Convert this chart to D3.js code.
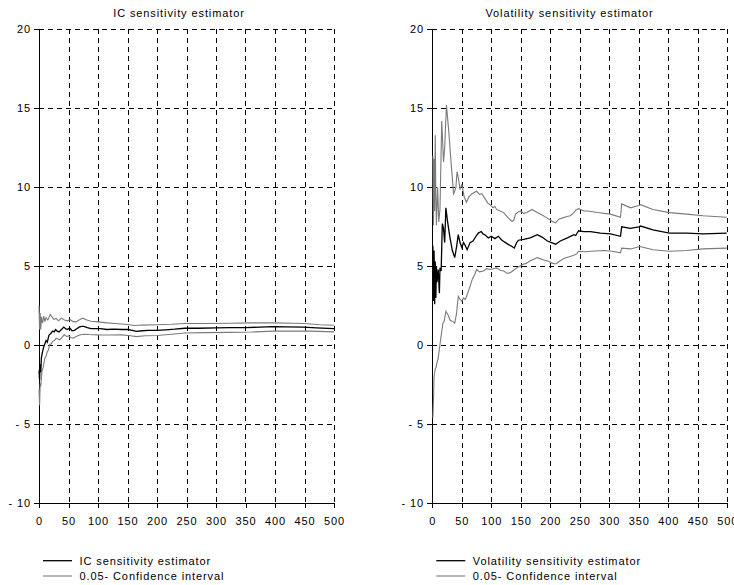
<!DOCTYPE html>
<html lang="en">
<head>
    <meta charset="UTF-8">
    <title>Sensitivity estimators</title>
    <script src="https://d3js.org/d3.v7.min.js"></script>
    <style>
        *{
            margin: 0;
            padding: 0;
        }
        body{
            background: #fff;
        }
        svg text{
            font-family: "Liberation Sans", Arial, sans-serif;
            font-size: 11px;
            letter-spacing: 0.9px;
            fill: #000;
        }
        .grid line{
            stroke: #000;
            stroke-width: 1px;
            stroke-dasharray: 5,4;
            shape-rendering: crispEdges;
        }
        .axis path, .axis line{
            fill: none;
            stroke: black;
            shape-rendering: crispEdges;
        }
    </style>
</head>
<body>
    <div id="content"></div>

    <script>
        var xTicks = [0, 50, 100, 150, 200, 250, 300, 350, 400, 450, 500];
        var yTicks = [-10, -5, 0, 5, 10, 15, 20];
        var yTickLabels = ["- 10", "- 5", "0", "5", "10", "15", "20"];

        var titles = ["IC sensitivity estimator", "Volatility sensitivity estimator"];
        var legendNames = [
            ["IC sensitivity estimator", "0.05- Confidence interval"],
            ["Volatility sensitivity estimator", "0.05- Confidence interval"]
        ];

        // left panel: IC sensitivity (estimate, upper and lower 0.05 bound)
        var icEst = [[0,-1.6],[1,-2.2],[2,-1.2],[3,-1.7],[4,-0.8],[6,-0.4],[8,-0.1],[10,0.1],[12,0.3],[14,0.2],
            [17,0.65],[20,0.75],[23,0.9],[26,0.85],[28,1.0],[31,0.9],[34,0.85],[38,1.0],[42,1.15],[45,1.05],
            [48,1.0],[52,1.1],[56,0.92],[60,0.95],[64,1.05],[68,1.15],[72,1.2],[76,1.2],[82,1.12],[88,1.05],
            [95,1.05],[104,1.05],[115,1.0],[127,1.02],[140,1.0],[150,1.0],[158,0.95],[165,0.88],[175,0.92],
            [185,0.95],[199,0.95],[215,0.98],[230,1.02],[247,1.08],[270,1.08],[300,1.1],[324,1.12],[350,1.12],
            [375,1.15],[397,1.18],[420,1.17],[448,1.15],[470,1.1],[500,1.05]];
        var icUpper = [[0,2.5],[1,1.0],[2,2.05],[3,1.0],[4,1.8],[6,1.4],[8,1.85],[10,1.5],[12,1.75],[15,1.6],
            [19,1.95],[22,1.8],[25,1.65],[29,1.7],[33,1.55],[38,1.72],[43,1.6],[48,1.55],[53,1.62],[58,1.5],
            [63,1.48],[68,1.6],[74,1.72],[80,1.62],[88,1.52],[100,1.48],[116,1.42],[130,1.38],[150,1.32],
            [162,1.25],[175,1.28],[199,1.3],[225,1.33],[247,1.38],[280,1.38],[324,1.4],[360,1.42],[397,1.42],
            [430,1.4],[450,1.38],[475,1.3],[500,1.27]];
        var icLower = [[0,-2.8],[1,-3.8],[2,-2.4],[3,-2.6],[5,-1.65],[7,-1.4],[10,-0.8],[12,-0.7],[14,-0.4],
            [16,-0.3],[18,0.05],[21,0.1],[23,0.25],[26,0.3],[29,0.45],[32,0.4],[35,0.35],[39,0.5],[43,0.68],
            [47,0.55],[50,0.6],[54,0.5],[58,0.45],[63,0.55],[69,0.65],[76,0.7],[85,0.68],[100,0.66],[120,0.65],
            [140,0.66],[155,0.6],[165,0.55],[180,0.6],[200,0.62],[225,0.7],[247,0.78],[280,0.8],[324,0.82],
            [360,0.84],[397,0.9],[430,0.9],[460,0.9],[500,0.85]];

        // right panel: volatility sensitivity
        var volEst = [[1,6.3],[2,2.8],[3,6.0],[4,2.6],[5,5.3],[6,3.0],[7,5.0],[8,4.0],[10,4.8],[12,3.3],
            [13,4.9],[15,4.7],[17,7.7],[19,7.4],[21,6.5],[23,8.7],[26,7.8],[30,6.8],[34,6.0],[38,5.55],
            [41,6.2],[44,7.0],[47,6.5],[50,6.2],[53,6.5],[56,6.3],[59,6.05],[64,6.5],[69,6.6],[74,6.9],
            [78,7.1],[83,7.2],[86,7.05],[89,7.0],[95,6.8],[100,6.9],[106,6.75],[112,6.9],[118,6.65],[126,6.45],
            [135,6.25],[139,6.15],[143,6.5],[146,6.65],[155,6.7],[166,6.8],[178,7.0],[186,6.85],[195,6.6],
            [209,6.4],[217,6.6],[229,6.8],[240,7.0],[243,6.95],[248,7.25],[257,7.2],[268,7.2],[285,7.1],
            [302,7.05],[319,6.9],[321,7.5],[336,7.4],[350,7.5],[353,7.55],[374,7.3],[402,7.1],[431,7.1],
            [459,7.05],[499,7.1]];
        var volUpper = [[1,12.0],[2,7.6],[3,11.8],[4,8.5],[5,13.3],[6,9.5],[7,7.6],[9,10.0],[11,7.8],[13,8.6],
            [16,14.2],[19,11.6],[21,12.5],[24,15.2],[28,13.5],[32,11.5],[36,9.6],[38,9.75],[40,10.0],[42,11.0],
            [45,10.4],[47,9.85],[50,10.2],[54,9.4],[58,9.05],[62,9.4],[66,9.55],[70,9.65],[75,9.75],[80,9.55],
            [84,9.6],[89,9.3],[94,9.0],[98,8.9],[103,8.7],[106,8.8],[109,8.6],[115,8.5],[121,8.4],[129,8.05],
            [135,7.85],[138,7.9],[141,8.3],[144,8.4],[149,8.5],[155,8.35],[160,8.4],[169,8.6],[178,8.4],
            [186,8.25],[195,8.05],[203,7.85],[209,7.75],[215,8.0],[220,8.05],[228,8.15],[234,8.2],[240,8.4],
            [243,8.55],[248,8.65],[257,8.5],[263,8.5],[280,8.4],[302,8.3],[319,8.1],[321,8.95],[336,8.7],
            [350,8.85],[353,8.9],[374,8.6],[402,8.4],[431,8.3],[459,8.2],[499,8.1]];
        var volLower = [[1,-4.6],[2,-3.5],[3,-1.96],[5,-1.5],[6,-1.43],[8,-1.1],[10,-0.8],[13,0.05],[15,0.6],
            [18,1.4],[20,1.5],[23,2.15],[27,1.9],[30,1.6],[35,1.5],[38,1.4],[41,2.0],[44,3.1],[47,2.9],[50,2.8],
            [53,3.0],[56,2.9],[60,3.3],[64,3.73],[68,4.2],[72,4.5],[75,4.8],[80,4.65],[87,4.7],[92,4.85],
            [98,4.8],[103,4.85],[109,4.9],[115,4.75],[121,4.7],[127,4.55],[132,4.6],[138,4.75],[143,4.9],
            [148,5.0],[152,5.1],[160,5.2],[166,5.35],[172,5.45],[178,5.55],[189,5.4],[198,5.3],[203,5.2],
            [209,5.15],[215,5.3],[223,5.5],[232,5.6],[240,5.7],[245,5.8],[248,5.95],[260,5.92],[268,5.95],
            [291,6.0],[305,5.95],[319,5.85],[321,6.15],[336,6.1],[352,6.25],[374,6.05],[402,5.95],[431,6.0],
            [459,6.1],[499,6.15]];

        var width = 734;
        var height = 585;

        var svg = d3.select("#content")
                .append("svg")
                .attr("width", width).attr("height", height);

        /* one panel: grid, axes, lines, title, legend */
        function drawPanel(left, right, title, titleX, est, upper, lower, names){
            var xScale = d3.scaleLinear().domain([0, 500]).range([left, right]);
            var yScale = d3.scaleLinear().domain([-10, 20]).range([503.3, 29.3]);

            var g = svg.append("g");

            // dashed grid
            var grid = g.append("g").attr("class", "grid");
            grid.selectAll(".vg").data(xTicks.slice(1)).enter().append("line")
                    .attr("x1", function(d){ return Math.round(xScale(d)) + 0.5; })
                    .attr("x2", function(d){ return Math.round(xScale(d)) + 0.5; })
                    .attr("y1", yScale(20)).attr("y2", yScale(-10));
            grid.selectAll(".hg").data(yTicks.slice(1)).enter().append("line")
                    .attr("y1", function(d){ return Math.round(yScale(d)) + 0.5; })
                    .attr("y2", function(d){ return Math.round(yScale(d)) + 0.5; })
                    .attr("x1", xScale(0)).attr("x2", xScale(500));

            var xAxis = d3.axisBottom(xScale).tickValues(xTicks).tickSize(5).tickSizeOuter(0).tickPadding(9);
            var yAxis = d3.axisLeft(yScale).tickValues(yTicks).tickSize(5).tickSizeOuter(0).tickPadding(3)
                    .tickFormat(function(d, i){ return yTickLabels[i]; });

            var gx = g.append("g").attr("class", "axis")
                    .attr("transform", "translate(0," + Math.round(yScale(-10)) + ")")
                    .call(xAxis);
            var gy = g.append("g").attr("class", "axis")
                    .attr("transform", "translate(" + Math.round(xScale(0)) + ",0)")
                    .call(yAxis);
            gx.attr("font-size", null).attr("font-family", null);
            gy.attr("font-size", null).attr("font-family", null);

            var line = d3.line()
                    .x(function(d){ return xScale(d[0]); })
                    .y(function(d){ return yScale(d[1]); });

            g.append("path").attr("d", line(upper))
                    .attr("fill", "none").attr("stroke", "#7a7a7a").attr("stroke-width", 1.1);
            g.append("path").attr("d", line(lower))
                    .attr("fill", "none").attr("stroke", "#7a7a7a").attr("stroke-width", 1.1);
            g.append("path").attr("d", line(est))
                    .attr("fill", "none").attr("stroke", "#000").attr("stroke-width", 1.3);

            g.append("text").attr("x", titleX).attr("y", 17)
                    .attr("text-anchor", "middle").text(title);

            // legend
            var lg = g.append("g");
            var colors = ["#000", "#7a7a7a"];
            names.forEach(function(n, i){
                var y = 560.7 + i * 15.3;
                lg.append("line")
                        .attr("x1", left + 4).attr("x2", left + 33)
                        .attr("y1", y).attr("y2", y)
                        .attr("stroke", colors[i]).attr("stroke-width", i == 0 ? 1.3 : 1.1);
                lg.append("text").attr("x", left + 40.5).attr("y", y + 4).text(n);
            });
        }

        drawPanel(39, 334, titles[0], 179, icEst, icUpper, icLower, legendNames[0]);
        drawPanel(432.3, 727.3, titles[1], 569.5, volEst, volUpper, volLower, legendNames[1]);
    </script>
</body>
</html>
